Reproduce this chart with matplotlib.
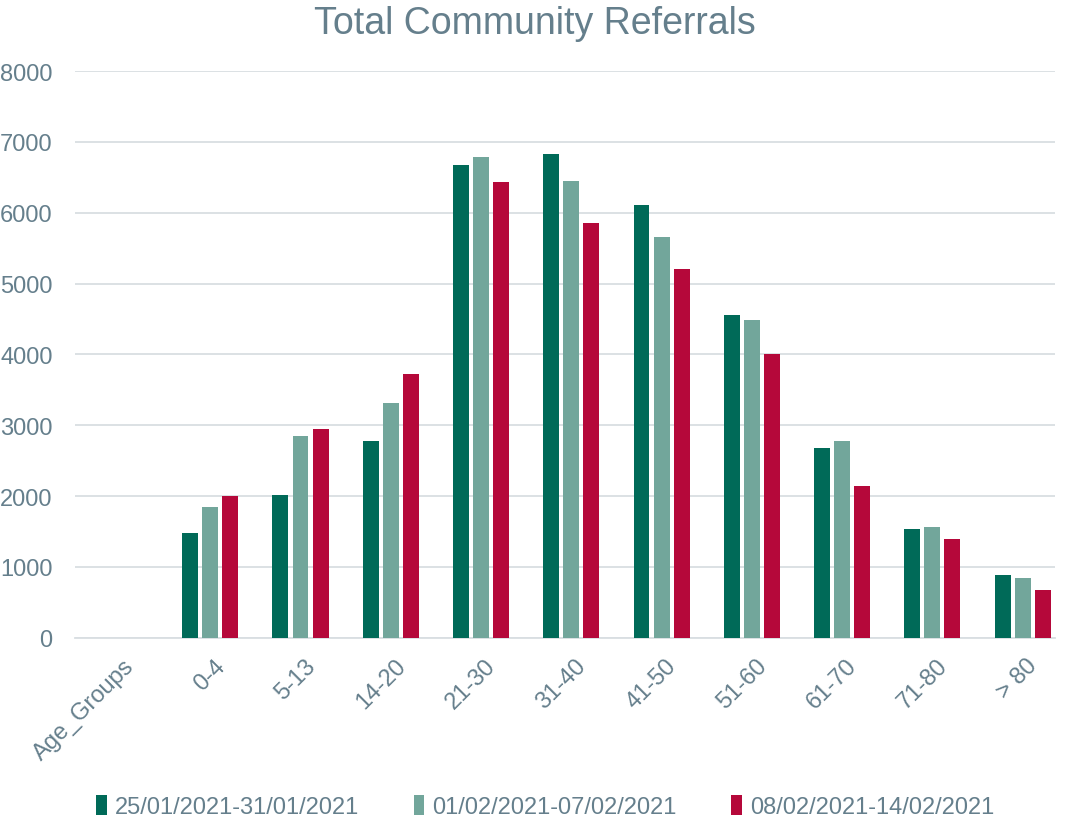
import matplotlib.pyplot as plt
import numpy as np

plt.rcParams["font.family"] = ["Liberation Sans", "DejaVu Sans"]

# %% data
age_groups = ["Age_Groups", "0-4", "5-13", "14-20", "21-30", "31-40",
              "41-50", "51-60", "61-70", "71-80", "> 80"]
week_labels = ["25/01/2021-31/01/2021", "01/02/2021-07/02/2021",
               "08/02/2021-14/02/2021"]
week1 = [np.nan, 1480, 2010, 2780, 6680, 6830, 6110, 4560, 2680, 1540, 890]
week2 = [np.nan, 1850, 2850, 3310, 6790, 6450, 5660, 4480, 2780, 1560, 850]
week3 = [np.nan, 2000, 2950, 3720, 6440, 5850, 5200, 4010, 2140, 1390, 680]

colors = ["#006A58", "#72A69B", "#B5083A"]
text_color = "#657F8C"
grid_color = "#D9DEE2"

# %% plotting
fig = plt.figure(figsize=(10.69, 8.2), dpi=100)
ax = fig.add_axes([0.070, 0.221, 0.917, 0.691])

x = np.arange(len(age_groups))
width = 0.177
step = 0.222
for i, (vals, lab, col) in enumerate(zip([week1, week2, week3], week_labels, colors)):
    ax.bar(x + (i - 1) * step, vals, width, color=col, label=lab, zorder=3)

ax.set_xlim(-0.5, len(age_groups) - 0.64)
ax.set_ylim(0, 8000)
ax.set_yticks(np.arange(0, 8001, 1000))
ax.yaxis.grid(True, color=grid_color, lw=1.3, zorder=0)
ax.set_axisbelow(True)
for s in ["top", "right", "left"]:
    ax.spines[s].set_visible(False)
ax.spines["bottom"].set_color(grid_color)
ax.spines["bottom"].set_linewidth(1.3)
ax.tick_params(axis="both", length=0, colors=text_color, labelsize=17)
ax.tick_params(axis="y", pad=16)
ax.tick_params(axis="x", pad=12)
ax.set_xticks(x + 0.04)
ax.set_xticklabels(age_groups, rotation=45, ha="right", rotation_mode="anchor")
for t in ax.get_xticklabels():
    t.set_color(text_color)

fig.suptitle("Total Community Referrals", y=0.993, fontsize=27, color=text_color)

leg = fig.legend(loc="lower center", bbox_to_anchor=(0.51, -0.025), ncol=3,
                 frameon=False, fontsize=17, handlelength=0.45, handleheight=0.9,
                 handletextpad=0.35, columnspacing=2.3)
for t in leg.get_texts():
    t.set_color(text_color)

fig.savefig("out.png", dpi=100)
